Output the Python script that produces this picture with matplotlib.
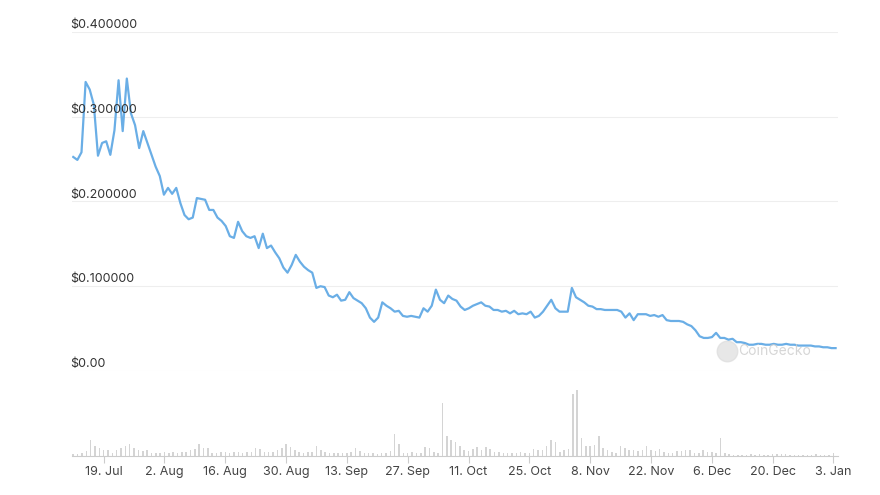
import matplotlib
matplotlib.use("Agg")
import matplotlib.pyplot as plt
import numpy as np
import pandas as pd

start = pd.Timestamp("2021-07-12")
end = pd.Timestamp("2022-01-03") + pd.Timedelta(hours=12)

prices = [0.2525, 0.249, 0.258, 0.341, 0.332, 0.314, 0.254, 0.269, 0.271, 0.255, 0.284, 0.343,
          0.283, 0.345, 0.304, 0.290, 0.263, 0.283, 0.269, 0.255, 0.241, 0.230, 0.208, 0.216,
          0.209, 0.216, 0.198, 0.184, 0.179, 0.181, 0.204, 0.203, 0.202, 0.190, 0.190, 0.181,
          0.177, 0.171, 0.159, 0.157, 0.176, 0.165, 0.159, 0.157, 0.159, 0.145, 0.162,
          0.145, 0.148, 0.140, 0.133, 0.122, 0.116, 0.125, 0.137, 0.129, 0.123, 0.119,
          0.116, 0.098, 0.100, 0.099, 0.089, 0.087, 0.090, 0.083, 0.084, 0.093, 0.086,
          0.083, 0.080, 0.074, 0.063, 0.058, 0.063, 0.081, 0.077, 0.074, 0.070, 0.071, 0.065,
          0.064, 0.065, 0.064, 0.063, 0.074, 0.070, 0.077, 0.096, 0.084, 0.080, 0.089, 0.085,
          0.083, 0.076, 0.072, 0.074, 0.077, 0.079, 0.081, 0.077, 0.076, 0.072, 0.072, 0.070,
          0.071, 0.068, 0.071, 0.067, 0.068, 0.067, 0.070, 0.063, 0.065, 0.070, 0.077, 0.084,
          0.074, 0.070, 0.070, 0.070, 0.098, 0.087, 0.084, 0.081, 0.077, 0.076, 0.073, 0.073,
          0.072, 0.072, 0.072, 0.072, 0.070, 0.063, 0.068, 0.060, 0.067, 0.067, 0.067, 0.065,
          0.066, 0.064, 0.066, 0.060, 0.059, 0.059, 0.059, 0.058, 0.055, 0.053, 0.048, 0.041,
          0.039, 0.039, 0.040, 0.045, 0.039, 0.039, 0.037, 0.038, 0.034, 0.034, 0.033, 0.031,
          0.031, 0.032, 0.032, 0.031, 0.031, 0.032, 0.031, 0.031, 0.032, 0.031, 0.031, 0.030,
          0.030, 0.030, 0.030, 0.029, 0.029, 0.028, 0.028, 0.027, 0.027]

volumes = [2, 2, 3, 5, 16, 10, 8, 6, 6, 3,
           6, 8, 10, 12, 8, 6, 5, 6, 3, 3,
           3, 4, 3, 4, 3, 4, 4, 6, 7, 12,
           8, 8, 3, 3, 4, 4, 3, 4, 4, 3,
           4, 4, 8, 7, 4, 4, 4, 6, 8, 12,
           9, 6, 4, 3, 4, 4, 10, 6, 4, 3, 3, 3,
           3, 3, 4, 8, 5, 3, 3, 3, 2, 3,
           3, 5, 22, 12, 3, 3, 4, 3, 3, 9,
           8, 4, 3, 53, 20, 16, 14, 10, 6, 5,
           7, 9, 6, 9, 7, 4, 4, 3, 3, 3,
           3, 4, 3, 3, 7, 6, 6, 10, 16, 14,
           4, 6, 7, 62, 66, 18, 10, 10, 11, 20,
           8, 6, 4, 3, 10, 8, 6, 6, 5, 6,
           10, 6, 5, 7, 4, 3, 3, 5, 5, 6,
           6, 3, 3, 6, 4, 4, 3, 18, 3, 2,
           1, 1, 1, 1, 2, 1, 2, 1, 1, 2,
           2, 2, 2, 1, 1, 1, 1, 1, 1, 2, 1, 1, 1, 3]

price_dates = pd.date_range(start, end, periods=len(prices))
vol_dates = pd.date_range(start, periods=len(volumes), freq="D")
tick_dates = pd.date_range("2021-07-19", "2022-01-03", freq="14D")
tick_labels = [f"{d.day}. {d.strftime('%b')}" for d in tick_dates]
y_ticks = [0.0, 0.1, 0.2, 0.3, 0.4]
y_labels = ["$0.00", "$0.100000", "$0.200000", "$0.300000", "$0.400000"]

plt.rcParams['font.family'] = ['Inter', 'DejaVu Sans']
fig = plt.figure(figsize=(8.8, 4.95), dpi=100)
ax = fig.add_axes([0.082, 0.2505, 0.870, 0.685])
ax.plot(price_dates, prices, color="#6aaee6", linewidth=1.6)
ax.set_ylim(0, 0.4)
ax.set_xlim(start - pd.Timedelta(hours=6), end + pd.Timedelta(hours=12))
for v, lab in zip(y_ticks, y_labels):
    ax.axhline(v, color="#eeeeee", linewidth=0.8, zorder=0)
    ax.text(-0.003, v + 0.001, lab, transform=ax.get_yaxis_transform(),
            ha="left", va="bottom", fontsize=9, color="#333333")
ax.set_xticks([])
ax.set_yticks([])
for s in ax.spines.values():
    s.set_visible(False)
ax.text(0.87, 0.06, "CoinGecko", transform=ax.transAxes, fontsize=10,
        color="#cccccc", ha="left", va="center", alpha=0.8)
ax.scatter([0.855], [0.06], s=220, color="#dddddd", transform=ax.transAxes, alpha=0.7)

vax = fig.add_axes([0.082, 0.0788, 0.870, 0.141])
vax.bar(vol_dates, volumes, width=0.35, color="#d4d4d4")
vax.set_ylim(0, 70)
vax.set_xlim(ax.get_xlim())
vax.set_yticks([])
vax.set_xticks(tick_dates)
vax.set_xticklabels(tick_labels, fontsize=9, color="#444444")
vax.tick_params(axis="x", length=5, color="#cccccc", pad=2)
for k in ["top", "left", "right"]:
    vax.spines[k].set_visible(False)
vax.spines["bottom"].set_color("#cccccc")
vax.patch.set_alpha(0)

fig.savefig("out.png", dpi=100)
